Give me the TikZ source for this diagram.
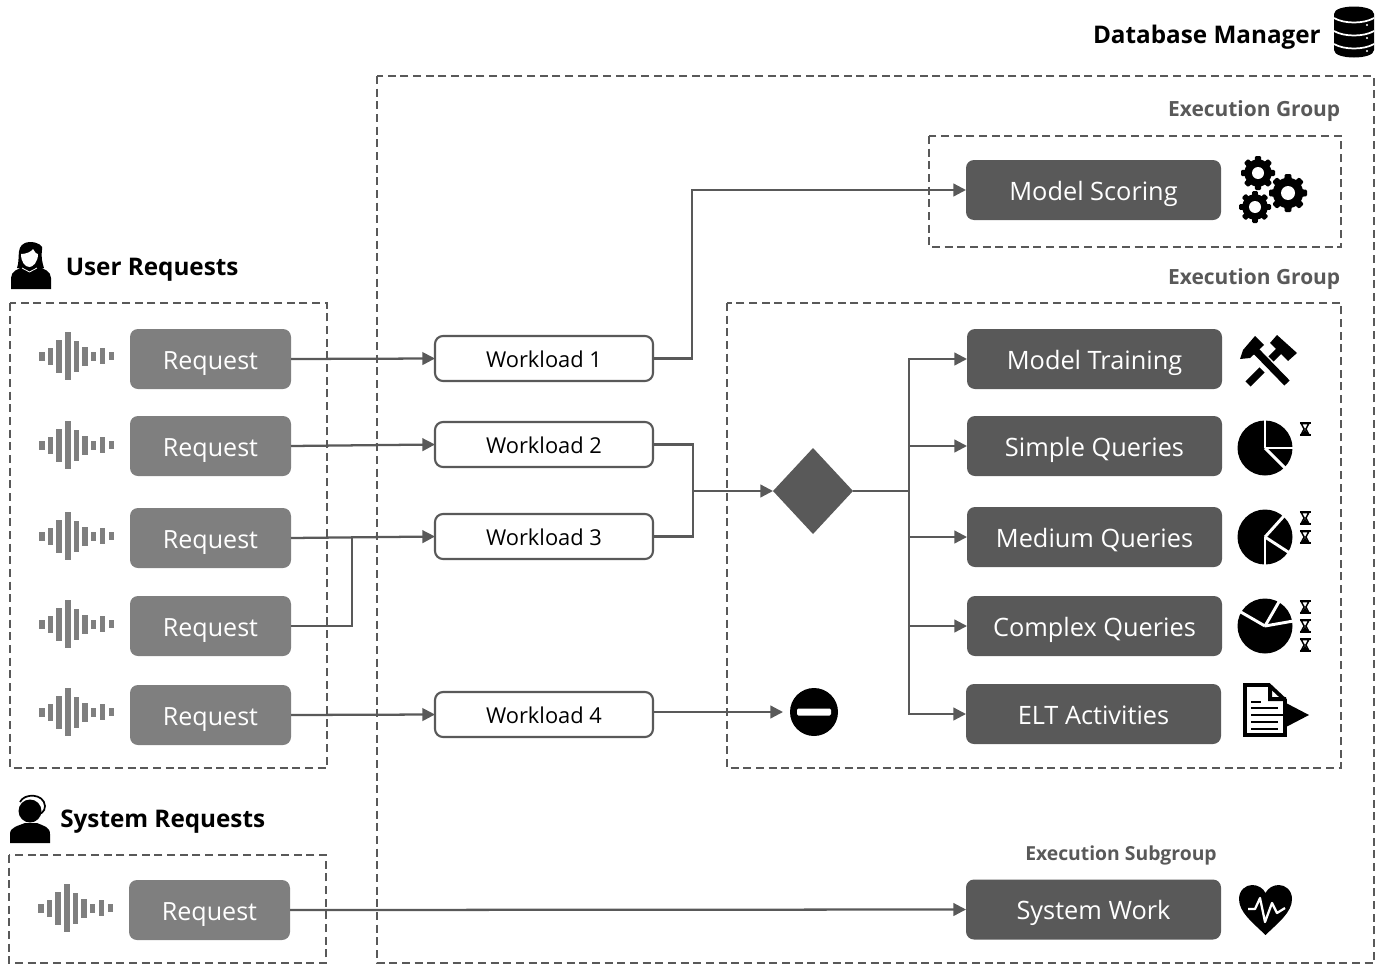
\documentclass[tikz,border=0pt]{standalone}
\usepackage{fontspec}
\setmainfont{Open Sans}
\usetikzlibrary{arrows.meta,shapes.geometric,calc}
\definecolor{dk}{HTML}{595959}
\definecolor{md}{HTML}{7F7F7F}
\newcommand{\wavebars}[2]{%
  \begin{scope}[shift={(#1,#2)}]
    \foreach \xa/\w/\h in {39/6/9,48/5/17,56/6/33,65/6/48,74/5/31,82/6/19,91/5/9,100/5/16,109/5/8}
      \fill[md] (\xa,-\h/2) rectangle ++(\w,\h);
  \end{scope}}
\newcommand{\gearicon}[4]{% x y r hole
  \fill[black] (#1,#2) circle[radius=#3*0.8];
  \foreach \a in {0,45,...,315}
    \fill[black,rounded corners=0.8pt] ($(#1,#2)+(\a:#3*0.66)+(\a+90:#3*0.2)$) -- ($(#1,#2)+(\a:#3)+(\a+90:#3*0.17)$) -- ($(#1,#2)+(\a:#3)+(\a-90:#3*0.17)$) -- ($(#1,#2)+(\a:#3*0.66)+(\a-90:#3*0.2)$) -- cycle;
  \fill[white] (#1,#2) circle[radius=#4];}
\newcommand{\hourglass}[2]{%
  \begin{scope}[shift={(#1,#2)}]
    \fill[black] (-5.5,-7) rectangle (5.5,-5.2);
    \fill[black] (-5.5,5.2) rectangle (5.5,7);
    \draw[black,line width=1.1pt,fill=white] (-3.8,-5.4) -- (3.8,-5.4) -- (0.9,0) -- (3.8,5.4) -- (-3.8,5.4) -- (-0.9,0) -- cycle;
    \fill[black] (-3.4,5.2) -- (3.4,5.2) -- (0,0.5) -- cycle;
  \end{scope}}
\tikzset{
  grp/.style={draw=dk,line width=1.2pt,dash pattern=on 6pt off 3.5pt},
  reqbox/.style={fill=md,text=white,rounded corners=6pt,minimum width=120.75pt,minimum height=45pt,inner sep=0pt,outer sep=0pt,text height=15pt,text depth=0pt,font=\fontsize{18.8}{20}\selectfont},
  darkbox/.style={fill=dk,text=white,rounded corners=6pt,minimum width=191.25pt,minimum height=45pt,inner sep=0pt,outer sep=0pt,text height=15pt,text depth=0pt,font=\fontsize{19}{20}\selectfont},
  wlbox/.style={draw=dk,line width=1.6pt,fill=white,text=black,rounded corners=6pt,minimum width=163.5pt,minimum height=33.75pt,inner sep=0pt,outer sep=0pt,text height=13pt,text depth=0pt,font=\fontsize{16.4}{18}\selectfont},
  conn/.style={draw=dk,line width=1.7pt},
  arr/.style={conn,-{Triangle[length=9.5pt,width=9.5pt]}},
  heading/.style={text=black,inner sep=0pt,font=\fontsize{18.2}{20}\selectfont\bfseries},
  grplabel/.style={text=dk,inner sep=0pt,font=\fontsize{15.7}{18}\selectfont\bfseries},
}
\begin{document}
\begin{tikzpicture}[x=0.75pt,y=-0.75pt]
\useasboundingbox (0,0) rectangle (1388,964);
% groups
\draw[grp] (377,76) rectangle (1374,963);
\draw[grp] (929,136) rectangle (1341,247);
\draw[grp] (727,303) rectangle (1341,768);
\draw[grp] (10,303) rectangle (327,768);
\draw[grp] (9,855) rectangle (326,963);
% headings
\node[heading,anchor=east] (hdb) at (1321,37) {Database Manager};
\node[heading,anchor=west] (hur) at (65.5,270) {User Requests};
\node[heading,anchor=west] (hsr) at (60,822) {System Requests};
\node[grplabel,anchor=east] (lg1) at (1340.5,111.5) {Execution Group};
\node[grplabel,anchor=east] (lg2) at (1340.5,279.5) {Execution Group};
\node[grplabel,anchor=east,font=\fontsize{14.5}{18}\selectfont\bfseries] (lg3) at (1217,855.5) {Execution Subgroup};
% requests
\node[reqbox] (req1) at (210.5,359) {Request};
\node[reqbox] (req2) at (210.5,446) {Request};
\node[reqbox] (req3) at (210.5,538) {Request};
\node[reqbox] (req4) at (210.5,626) {Request};
\node[reqbox] (req5) at (210.5,715) {Request};
\node[reqbox] (req6) at (209.5,910) {Request};
\wavebars{0}{356}\wavebars{0}{445}\wavebars{0}{536}\wavebars{0}{624}\wavebars{0}{712}\wavebars{-1}{908}
% workloads
\node[wlbox] (wl1) at (544,358.5) {Workload 1};
\node[wlbox] (wl2) at (544,444.5) {Workload 2};
\node[wlbox] (wl3) at (544,536.5) {Workload 3};
\node[wlbox] (wl4) at (544,714.5) {Workload 4};
% targets
\node[darkbox] (scoring) at (1093.5,190) {Model Scoring};
\node[darkbox] (training) at (1094.5,359) {Model Training};
\node[darkbox] (simple) at (1094.5,446) {Simple Queries};
\node[darkbox] (medium) at (1094.5,537) {Medium Queries};
\node[darkbox] (complex) at (1094.5,626) {Complex Queries};
\node[darkbox] (elt) at (1093.5,714) {ELT Activities};
\node[darkbox] (syswork) at (1093.5,909.5) {System Work};
% decision and stop
\node[diamond,fill=dk,minimum width=60pt,minimum height=64.5pt,inner sep=0pt,outer sep=0pt] (dec) at (813,491) {};
\node[circle,fill=black,minimum size=36pt,inner sep=0pt,outer sep=0pt] (stop) at (814,712) {};
\fill[white,rounded corners=1pt] (797,708.5) rectangle (831,715.5);
% connector helpers
\coordinate (jin) at (693,491);
\coordinate (bus) at (909,491);
\coordinate (j34) at (352,538);
% connectors
\draw[arr] (req1.east) -- (wl1.west);
\draw[arr] (req2.east) -- (wl2.west);
\draw[arr] (req3.east) -- (wl3.west);
\draw[conn] (req4.east) -| (j34);
\draw[arr] (req5.east) -- (wl4.west);
\draw[arr] (req6.east) -- (syswork.west);
\draw[arr] (wl1.east) -- ++(39,0) |- (scoring.west);
\draw[conn] (wl2.east) -| (jin);
\draw[conn] (wl3.east) -| (jin);
\draw[arr] (jin) -- (dec.west);
\draw[conn] (dec.east) -- (bus);
\draw[arr] (bus) |- (training.west);
\draw[arr] (bus) |- (simple.west);
\draw[arr] (bus) |- (medium.west);
\draw[arr] (bus) |- (complex.west);
\draw[arr] (bus) |- (elt.west);
\draw[arr,shorten >=5.25pt] (wl4.east |- stop.west) -- (stop.west);
% gears
\gearicon{1258}{173}{17}{6}
\gearicon{1288}{193}{19}{7}
\gearicon{1255}{207}{16}{6}
% hammers
\draw[black,line width=5.5pt] (1253,348) -- (1287,383);
\fill[black] (1240,359) -- (1243,350) -- (1255,336) -- (1264,345) -- (1250,358) -- cycle;
\draw[black,line width=5.5pt] (1248,384) -- (1262,370);
\draw[black,line width=5.5pt] (1271,359) -- (1285,345);
\fill[black] (1270,343) -- (1277,335) -- (1297,353) -- (1288,361) -- cycle;
% pies (angles are measured with y pointing down)
\fill[black] (1265,448) circle[radius=27.5];
\foreach \a in {-90,0,45} \draw[white,line width=2.2pt] (1265,448) -- ++(\a:29);
\fill[black] (1265,537) circle[radius=27.5];
\foreach \a in {-48,90,33} \draw[white,line width=2.2pt] (1265,537) -- ++(\a:29);
\fill[black] (1265,626) circle[radius=27.5];
\foreach \a in {-150,-60,-10} \draw[white,line width=2.2pt] (1265,626) -- ++(\a:29);
\hourglass{1305}{429}
\hourglass{1305}{518}\hourglass{1305}{537}
\hourglass{1305}{607}\hourglass{1305}{626}\hourglass{1305}{645}
% document
\fill[black] (1286,703) -- (1309,715) -- (1286,727) -- cycle;
\draw[black,line width=2.8pt,fill=white] (1245,685) -- (1269,685) -- (1285,700) -- (1285,735) -- (1245,735) -- cycle;
\fill[black] (1268,684) -- (1268,701) -- (1286,701) -- (1286,697) -- (1272,697) -- (1272,686) -- cycle;
\draw[black,line width=1.9pt] (1251,702) -- (1261,702);
\draw[black,line width=1.9pt] (1251,708) -- (1278,708);
\draw[black,line width=2.2pt] (1251,715) -- (1296,715);
\draw[black,line width=1.9pt] (1251,722) -- (1278,722);
\draw[black,line width=1.9pt] (1251,729) -- (1278,729);
% heart
\fill[black] (1265.5,935) .. controls (1252,922) and (1239,912) .. (1239,899) .. controls (1239,890) and (1246,885) .. (1252,885) .. controls (1258,885) and (1263,888) .. (1265.5,893) .. controls (1268,888) and (1273,885) .. (1279,885) .. controls (1285,885) and (1292,890) .. (1292,899) .. controls (1292,912) and (1279,922) .. cycle;
\draw[white,line width=1.7pt,line join=round] (1248,909) -- (1255,909) -- (1260,898) -- (1265,922) -- (1272,903) -- (1277,913) -- (1285,908);
% database
\fill[black] (1334,14) .. controls (1334,4) and (1374,4) .. (1374,14) -- (1374,50) .. controls (1374,60) and (1334,60) .. (1334,50) -- cycle;
\draw[white,line width=1.3pt] (1334,18) .. controls (1344,24) and (1364,24) .. (1374,18);
\draw[white,line width=1.3pt] (1334,31) .. controls (1344,37) and (1364,37) .. (1374,31);
\draw[white,line width=1.3pt] (1334,44) .. controls (1344,50) and (1364,50) .. (1374,44);
\foreach \yy in {25,38,51} \fill[white] (1367,\yy) circle[radius=1.2];
% user
\fill[black] (11,289) -- (11,278) .. controls (11,271) and (18,269) .. (25,266) -- (37,266) .. controls (44,269) and (51,271) .. (51,278) -- (51,289) -- cycle;
\fill[black] (17,268) .. controls (21,258) and (14,243) .. (30,242) .. controls (38,242) and (44,246) .. (42,250) .. controls (41,256) and (42,262) .. (44,268) -- cycle;
\fill[white] (21,254) .. controls (26,254) and (31,252) .. (33,249) .. controls (34,252) and (37,254) .. (38,254) .. controls (38,262) and (33,267) .. (29.5,267) .. controls (25,267) and (21,262) .. (21,254) -- cycle;
\draw[white,line width=0.6pt] (22,268) -- (29.5,272) -- (37,268);
% operator
\fill[black] (10,843) -- (10,834) .. controls (10,827) and (18,826) .. (25,823) -- (37,823) .. controls (44,826) and (50,827) .. (50,834) -- (50,843) -- cycle;
\fill[black] (30,811) circle[radius=11.5];
\draw[black,line width=1.3pt] (20,802) .. controls (24,793) and (44,793) .. (45,806) .. controls (45,812) and (41,814) .. (33,817);
\end{tikzpicture}
\end{document}
